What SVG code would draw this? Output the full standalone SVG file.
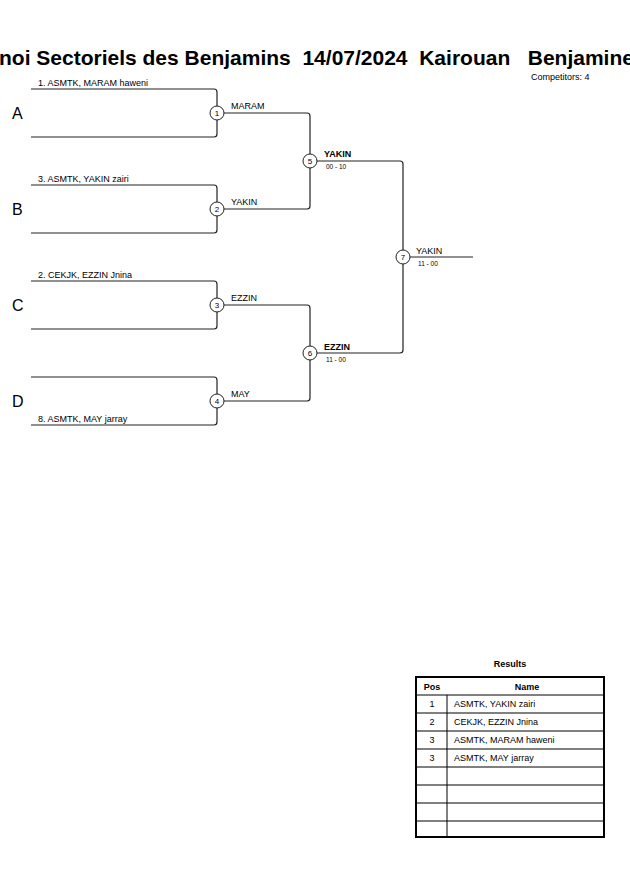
<svg xmlns="http://www.w3.org/2000/svg" width="630" height="891" viewBox="0 0 630 891">
<style>
text{font-family:"Liberation Sans",Arial,sans-serif;fill:#000}
.ln{fill:none;stroke:#222;stroke-width:1.2}
.c{fill:#fff;stroke:#222;stroke-width:1}
.num{font-size:8px;text-anchor:middle}
.nm{font-size:9px}
.sc{font-size:6.5px}
.let{font-size:16px}
.tb{fill:none;stroke:#000;stroke-width:1}
</style>
<rect width="630" height="891" fill="#fff"/>
<text x="-1" y="65" font-size="21" font-weight="bold" xml:space="preserve" style="white-space:pre">noi Sectoriels des Benjamins  14/07/2024  Kairouan   Benjamine</text>
<text x="531" y="80" font-size="9">Competitors: 4</text>
<g id="connectors">
<path class="ln" d="M31,89 H214 Q217,89 217,92 V134 Q217,137 214,137 H31"/>
<path class="ln" d="M31,185 H214 Q217,185 217,188 V230 Q217,233 214,233 H31"/>
<path class="ln" d="M31,281 H214 Q217,281 217,284 V326 Q217,329 214,329 H31"/>
<path class="ln" d="M31,377 H214 Q217,377 217,380 V422 Q217,425 214,425 H31"/>
<path class="ln" d="M217,113 H307 Q310,113 310,116 V206 Q310,209 307,209 H217"/>
<path class="ln" d="M217,305 H307 Q310,305 310,308 V398 Q310,401 307,401 H217"/>
<path class="ln" d="M310,161 H400 Q403,161 403,164 V350 Q403,353 400,353 H310"/>
<path class="ln" d="M403,257 H473"/>
</g>
<g id="entrants">
<text class="let" x="12" y="119">A</text>
<text class="let" x="12" y="215">B</text>
<text class="let" x="12" y="311">C</text>
<text class="let" x="12" y="407">D</text>
<text class="nm" x="38" y="86">1. ASMTK, MARAM haweni</text>
<text class="nm" x="38" y="182">3. ASMTK, YAKIN zairi</text>
<text class="nm" x="38" y="278">2. CEKJK, EZZIN Jnina</text>
<text class="nm" x="38" y="422">8. ASMTK, MAY jarray</text>
</g>
<g id="m1"><circle class="c" cx="217" cy="113" r="7"/><text class="num" x="217" y="116">1</text><text class="nm" x="231" y="109">MARAM</text></g>
<g id="m2"><circle class="c" cx="217" cy="209" r="7"/><text class="num" x="217" y="212">2</text><text class="nm" x="231" y="205">YAKIN</text></g>
<g id="m3"><circle class="c" cx="217" cy="305" r="7"/><text class="num" x="217" y="308">3</text><text class="nm" x="231" y="301">EZZIN</text></g>
<g id="m4"><circle class="c" cx="217" cy="401" r="7"/><text class="num" x="217" y="404">4</text><text class="nm" x="231" y="397">MAY</text></g>
<g id="m5"><circle class="c" cx="310" cy="161" r="7"/><text class="num" x="310" y="164">5</text><text class="nm" x="324" y="157" font-weight="bold">YAKIN</text><text class="sc" x="326" y="169">00 - 10</text></g>
<g id="m6"><circle class="c" cx="310" cy="353" r="7"/><text class="num" x="310" y="356">6</text><text class="nm" x="324" y="350" font-weight="bold">EZZIN</text><text class="sc" x="326" y="362">11 - 00</text></g>
<g id="m7"><circle class="c" cx="403" cy="257" r="7"/><text class="num" x="403" y="260">7</text><text class="nm" x="416" y="254">YAKIN</text><text class="sc" x="418" y="266">11 - 00</text></g>
<g id="results">
<text x="510" y="667" font-size="9" font-weight="bold" text-anchor="middle">Results</text>
<rect x="416" y="677" width="188" height="160" fill="none" stroke="#000" stroke-width="2"/>
<path class="tb" d="M416,695H604M416,713H604M416,731H604M416,749H604M416,767H604M416,785H604M416,803H604M416,821H604M447,695V837"/>
<text x="432" y="690" font-size="9" font-weight="bold" text-anchor="middle">Pos</text>
<text x="527" y="690" font-size="9" font-weight="bold" text-anchor="middle">Name</text>
<g font-size="9">
<text x="432" y="707" text-anchor="middle">1</text><text x="454" y="707">ASMTK, YAKIN zairi</text>
<text x="432" y="725" text-anchor="middle">2</text><text x="454" y="725">CEKJK, EZZIN Jnina</text>
<text x="432" y="743" text-anchor="middle">3</text><text x="454" y="743">ASMTK, MARAM haweni</text>
<text x="432" y="761" text-anchor="middle">3</text><text x="454" y="761">ASMTK, MAY jarray</text>
</g>
</g>
</svg>
